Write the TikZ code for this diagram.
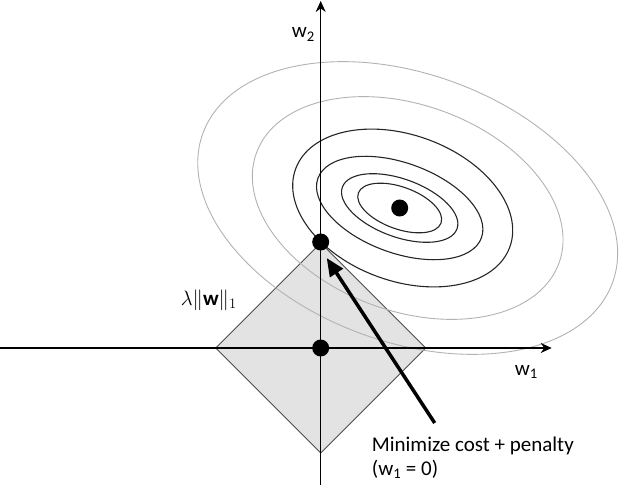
\documentclass[tikz,border=0pt]{standalone}
\usepackage{fontspec}
\setmainfont{Carlito}
\usetikzlibrary{arrows.meta,positioning}

\begin{document}
\begin{tikzpicture}[x=1pt,y=1pt,
    axis/.style={line width=1.2pt,-{Stealth[length=11pt,width=10pt]}},
    contour/.style={line width=1.1pt,black!85},
    faint/.style={line width=0.9pt,black!30},
    dotnode/.style={circle,fill=black,inner sep=0pt,minimum size=17pt},
    lbl/.style={font=\fontsize{21}{25}\selectfont,inner sep=0pt}
  ]
  \useasboundingbox (-320.7,-137) rectangle (303.3,348);
  % the L1 ball
  \draw[fill=black!11,draw=black!70,line width=0.8pt]
    (105,0) -- (0,105) -- (-105,0) -- (0,-105) -- cycle;
  % level sets of the cost
  \foreach \a/\b/\cx/\sty in {44/21/79/contour, 61/29/79/contour,
      87/45/79/contour, 114/73/82/contour, 161/103/87/faint, 218/134/87/faint}
    \draw[\sty, rotate around={-20:(\cx,140)}]
      (\cx,140) ellipse [x radius=\a, y radius=\b];
  % axes
  \draw[axis] (-321,0) -- (231,0);
  \draw[axis] (0,-137) -- (0,347);
  \node[lbl, anchor=base west] (w1) at (194,-27) {w\textsubscript{1}};
  \node[lbl, anchor=base west] (w2) at (-29,310) {w\textsubscript{2}};
  \node[lbl, anchor=base] (norm) at (-112,43) {$\lambda\|\mathbf{w}\|_1$};
  % points
  \node[dotnode] (opt) at (79,140) {};
  \node[dotnode] (sol) at (0,106) {};
  \node[dotnode] (orig) at (0,0) {};
  % pointer
  \coordinate (tail) at (114,-75);
  \coordinate (tip) at (6,90);
  \draw[line width=3.5pt,-{Triangle[length=18pt,width=15pt]}] (tail) -- (tip);
  \node[lbl, anchor=base west] (note) at (51,-103) {Minimize cost + penalty};
  \node[lbl, anchor=base west] (cond) at (51,-127) {(w\textsubscript{1} = 0)};
\end{tikzpicture}
\end{document}
